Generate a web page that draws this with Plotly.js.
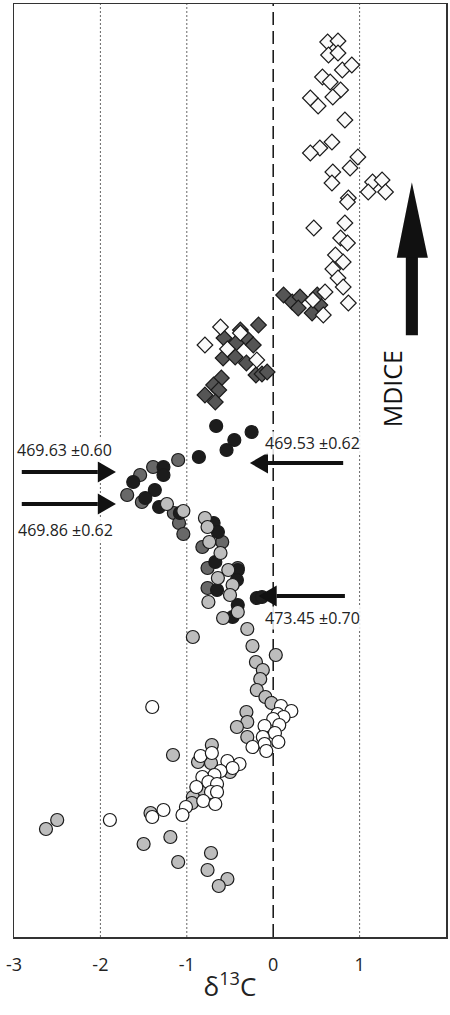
<!DOCTYPE html>
<html>
<head>
<meta charset="utf-8">
<script src="https://cdn.plot.ly/plotly-3.0.1.min.js"></script>
<style>html,body{margin:0;padding:0;background:#fff;}#chart{width:450px;height:1015px;}</style>
</head>
<body>
<div id="chart"></div>
<script>
// δ13C values (x) and stratigraphic height (arbitrary units, y)
var whiteDiamondX = [0.63,0.75,0.64,0.75,0.80,0.91,0.57,0.66,0.78,0.69,0.43,0.52,0.83,0.68,0.54,0.43,0.98,0.89,0.69,0.68,1.15,1.26,1.10,1.30,0.87,0.86,0.47,0.83,0.78,0.86,0.72,0.81,0.69,0.75,0.81,0.87,0.60,0.46,0.58,-0.61,-0.38,-0.79,-0.53,-0.19];
var whiteDiamondY = [895,896,882,884,867,872,860,855,847,840,839,831,817,795,789,784,780,769,765,754,755,757,745,745,739,735,709,714,699,694,682,675,668,659,650,634,645,637,622,610,604,592,588,577];

var darkDiamondX = [0.12,0.22,0.31,0.29,0.45,0.54,0.51,-0.17,-0.57,-0.38,-0.32,-0.23,-0.43,-0.58,-0.44,-0.31,-0.20,-0.13,-0.07,-0.60,-0.69,-0.79,-0.63,-0.67];
var darkDiamondY = [642,635,640,629,624,632,642,612,599,607,600,592,594,579,580,574,562,563,565,559,552,542,547,535];

var blackCircleX = [-0.66,-0.25,-0.45,-0.54,-0.86,-1.27,-1.27,-1.62,-1.37,-1.48,-1.32,-1.08,-0.69,-0.64,-0.67,-0.41,-0.42,-0.65,-0.19,-0.13,-0.41,-0.47];
var blackCircleY = [511,505,497,487,480,470,462,455,447,439,430,424,414,405,375,367,357,347,339,340,332,320];

var darkCircleX = [-1.54,-1.39,-1.10,-1.69,-1.52,-1.15,-1.09,-1.04,-0.82,-0.59,-0.76,-0.76,-0.41];
var darkCircleY = [462,470,477,442,435,424,414,403,390,395,369,349,369];

var lightCircleX = [-1.23,-1.04,-0.79,-0.76,-0.74,-0.61,-0.52,-0.64,-0.47,-0.50,-0.75,-0.41,-0.58,-0.30,-0.24,-0.93,0.03,-0.20,-0.12,-0.15,-0.19,-0.09,-0.02,-0.31,-0.30,-0.42,-0.30,-0.71,-1.16,-0.87,-0.72,-0.50,-0.81,-0.93,-0.94,-1.42,-2.50,-2.63,-1.50,-1.19,-1.10,-0.72,-0.76,-0.53,-0.63];
var lightCircleY = [433,426,419,410,395,384,367,359,352,342,335,325,319,308,291,300,282,275,267,258,247,240,234,225,215,210,200,192,182,175,174,165,147,140,134,124,117,108,93,100,75,84,67,58,51];

var whiteCircleX = [-1.40,0.09,0.21,0.05,0.12,0.00,0.07,-0.10,0.02,-0.12,0.06,-0.10,-0.24,-0.08,-0.39,-0.53,-0.84,-0.71,-0.47,-0.61,-0.68,-0.82,-0.75,-0.89,-0.65,-0.72,-0.65,-0.81,-0.67,-1.01,-1.05,-1.27,-1.40,-1.89];
var whiteCircleY = [230,231,226,223,220,218,212,211,204,200,195,193,190,186,173,176,181,184,169,166,162,160,155,150,153,145,145,136,133,130,122,127,120,117];

var xTicks = [-3,-2,-1,0,1,2];
var xTickText = ['-3','-2','-1','0','1','2'];
var dottedLines = [-2,-1,1];
var dashedLine = 0;

var ageLabels = ['469.63 ±0.60','469.86 ±0.62','469.53 ±0.62','473.45 ±0.70'];

var FONT = 'Open Sans, Noto Sans, sans-serif';
var edge = {color:'#1a1a1a', width:1.2};

function sc(x, y, symbol, size, fill){
  return {type:'scatter', mode:'markers', x:x, y:y, hoverinfo:'skip',
    marker:{symbol:symbol, size:size, color:fill, line:edge}};
}

var data = [
  sc(darkDiamondX, darkDiamondY, 'diamond', 12, '#555555'),
  sc(whiteDiamondX, whiteDiamondY, 'diamond', 12, '#fafafa'),
  sc(darkCircleX, darkCircleY, 'circle', 13, '#686868'),
  sc(blackCircleX, blackCircleY, 'circle', 13, '#1c1c1c'),
  sc(lightCircleX, lightCircleY, 'circle', 13, '#bdbdbd'),
  sc(whiteCircleX, whiteCircleY, 'circle', 13, '#ffffff')
];

var shapes = [];
dottedLines.forEach(function(v){
  shapes.push({type:'line', xref:'x', yref:'paper', x0:v, x1:v, y0:0, y1:1, layer:'below',
    line:{color:'#666', width:1, dash:'2px,2px'}});
});
shapes.push({type:'line', xref:'x', yref:'paper', x0:dashedLine, x1:dashedLine, y0:0, y1:1, layer:'below',
  line:{color:'#111', width:1.5, dash:'13px,6px'}});
// MDICE arrow
shapes.push({type:'rect', xref:'paper', yref:'paper', x0:0.907, x1:0.935, y0:0.645, y1:0.73,
  fillcolor:'#111', line:{width:0}});
shapes.push({type:'path', xref:'paper', yref:'paper', path:'M0.886,0.728 L0.958,0.728 L0.921,0.809 Z',
  fillcolor:'#111', line:{width:0}});

// horizontal age arrows: tip x, tail x, y (head length in x units, half height in y units)
var HEAD_L = 0.21, HEAD_H = 10.5;
function arrowShapes(xTip, xTail, y){
  var dir = xTail < xTip ? 1 : -1;
  var xBase = xTip - dir * HEAD_L;
  shapes.push({type:'line', xref:'x', yref:'y', x0:xTail, x1:xBase, y0:y, y1:y,
    line:{color:'#111', width:4}});
  shapes.push({type:'path', xref:'x', yref:'y',
    path:'M' + xBase + ',' + (y - HEAD_H) + ' L' + xBase + ',' + (y + HEAD_H) + ' L' + xTip + ',' + y + ' Z',
    fillcolor:'#111', line:{width:0}});
}
arrowShapes(-1.82, -2.91, 465);
arrowShapes(-1.82, -2.91, 433);
arrowShapes(-0.27, 0.81, 474);
arrowShapes(-0.17, 0.83, 341);

function label(txt, x, y){
  return {x:x, y:y, xref:'x', yref:'y', text:txt, showarrow:false, bgcolor:'rgba(255,255,255,0.85)',
    font:{family:FONT, size:16, color:'#222'}, borderpad:0};
}

var annotations = [
  label(ageLabels[0], -2.42, 487),
  label(ageLabels[1], -2.40, 407),
  label(ageLabels[2], 0.45, 494),
  label(ageLabels[3], 0.45, 319),
  {xref:'paper', yref:'paper', x:0.921, y:0.588, text:'MDICE', textangle:-90, showarrow:false,
    font:{family:FONT, size:25, color:'#111'}}
];

var layout = {
  width:450, height:1015,
  margin:{l:14, r:4, t:4, b:78},
  paper_bgcolor:'#fff', plot_bgcolor:'#fff',
  showlegend:false,
  font:{family:FONT, color:'#222'},
  xaxis:{range:[-3,2], tickvals:xTicks, ticktext:xTickText, showgrid:false, zeroline:false,
    showline:true, mirror:true, linecolor:'#333', linewidth:1.5,
    ticks:'outside', ticklen:11, tickcolor:'rgba(0,0,0,0)', tickfont:{family:FONT, size:18, color:'#222'},
    title:{text:'δ<sup>13</sup>C', font:{family:FONT, size:26, color:'#222'}, standoff:2}},
  yaxis:{range:[0,933], showticklabels:false, ticks:'', showgrid:false, zeroline:false,
    showline:true, mirror:true, linecolor:'#333', linewidth:1.5},
  shapes:shapes,
  annotations:annotations
};

Plotly.newPlot('chart', data, layout, {displayModeBar:false, staticPlot:true});
</script>
</body>
</html>
